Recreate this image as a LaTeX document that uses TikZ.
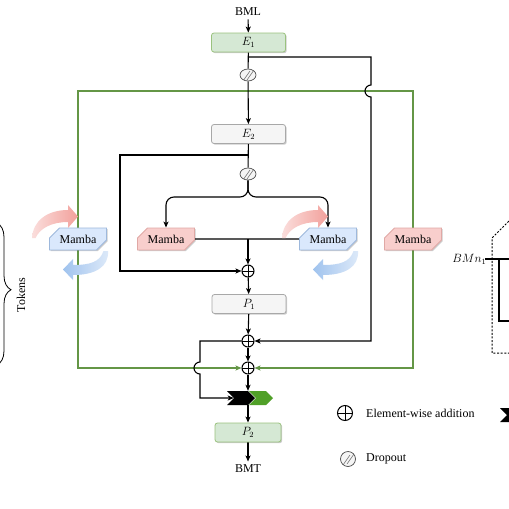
\documentclass[tikz,border=0pt]{standalone}
\usepackage{fontspec}
\setmainfont{Liberation Serif}
\usetikzlibrary{arrows.meta,shadows,calc,decorations.pathreplacing,shapes.misc,shapes.symbols,shapes.geometric,backgrounds}
\definecolor{gfill}{HTML}{D5E8D4}
\definecolor{gdraw}{HTML}{9AC27E}
\definecolor{grayfill}{HTML}{F5F5F5}
\definecolor{graydraw}{HTML}{A8A8A8}
\definecolor{rfill}{HTML}{F8CECC}
\definecolor{rdraw}{HTML}{E0A8A5}
\definecolor{bfill}{HTML}{DAE8FC}
\definecolor{bdraw}{HTML}{9DB8DC}
\definecolor{gline}{RGB}{100,150,70}
\definecolor{gchev}{RGB}{80,160,40}
\definecolor{parrow}{RGB}{242,160,155}
\definecolor{barrow}{RGB}{160,195,238}
\tikzset{
  base/.style={font=\fontsize{12}{14}\selectfont},
  shad/.style={drop shadow={shadow xshift=1.2pt,shadow yshift=-1.2pt,opacity=0.2,fill=black}},
  box/.style={base,rounded corners=2.5pt,minimum width=74pt,minimum height=19pt,inner sep=0pt,line width=0.8pt,shad},
  greenbox/.style={box,fill=gfill,draw=gdraw},
  graybox/.style={box,fill=grayfill,draw=graydraw},
  mamba/.style={base,chamfered rectangle,chamfered rectangle corners={north west,south east},chamfered rectangle xsep=5pt,chamfered rectangle ysep=5pt,minimum width=57pt,minimum height=22pt,inner sep=1pt,line width=0.8pt,shad},
  redm/.style={mamba,fill=rfill,draw=rdraw},
  bluem/.style={mamba,fill=bfill,draw=bdraw},
  dropout/.style={ellipse,draw=black!70,fill=black!4,line width=0.7pt,minimum width=16pt,minimum height=12pt,inner sep=0pt,
    path picture={\draw[black!55,line width=0.6pt]
      ($(path picture bounding box.center)+(-5pt,-6pt)$) -- ++(7pt,10pt)
      ($(path picture bounding box.center)+(-1pt,-5pt)$) -- ++(7pt,10pt);}},
  plus/.style={circle,draw,fill=white,line width=1pt,minimum size=12pt,inner sep=0pt,
    path picture={\draw[line width=1pt] (path picture bounding box.north) -- (path picture bounding box.south) (path picture bounding box.west) -- (path picture bounding box.east);}},
  conn/.style={line width=1.1pt,black},
  arr/.style={conn,-{Stealth[length=6pt,width=5pt,inset=1.5pt]}},
  gconn/.style={line width=1.1pt,gline},
  garr/.style={gconn,-{Stealth[length=6pt,width=5pt,inset=1.5pt]}},
  chev/.style={signal,signal to=east,signal from=west,minimum width=28pt,minimum height=14pt,inner sep=0pt,draw=none},
  pinkarr/.pic={\shade[left color=parrow!35!white,right color=parrow] (282,238) .. controls (283,221) and (297,210) .. (318,210) -- (318,205) -- (328,216.5) -- (318,228) -- (318,222) .. controls (302,222) and (290,228) .. (285.5,238) -- cycle;},
  bluearr/.pic={\shade[left color=barrow,right color=barrow!35!white] (353.5,251) -- (358,251) .. controls (359,267) and (345,275) .. (323,275) -- (323,280) -- (313,269.5) -- (323,259) -- (323,265) .. controls (340,265) and (350,262) .. (353.5,251) -- cycle;},
}
\begin{document}
\begin{tikzpicture}[x=1pt,y=-1pt,base]
\useasboundingbox (0,0) rectangle (509,509);
\clip (0,0) rectangle (509,509);
% main nodes
\node (bml) at (248,12) {BML};
\node[greenbox] (e1) at (248.5,42.5) {$E_1$};
\node[dropout] (d1) at (248,75) {};
\node[graybox] (e2) at (248.5,134) {$E_2$};
\node[dropout] (d2) at (248,174) {};
\node[redm] (m1) at (166,239) {Mamba};
\node[bluem] (m2) at (328,239) {Mamba};
\node[bluem] (m3) at (78,239) {Mamba};
\node[redm] (m4) at (413,239) {Mamba};
\node[plus] (a1) at (248,271) {};
\node[graybox] (p1) at (249,304) {$P_1$};
\node[plus] (a2) at (248,341) {};
\node[plus] (a3) at (248,368) {};
\node[chev,fill=gchev,minimum width=24pt] (cg) at (261,398) {};
\node[chev,fill=black] (cb) at (241,398) {};
\node[greenbox,minimum width=66pt] (p2) at (248,432.5) {$P_2$};
\node (bmt) at (248,469) {BMT};
% coordinates
\coordinate (j1) at (248,57);
\coordinate (r1) at (371,57);
\coordinate (r2) at (371,85);
\coordinate (r3) at (371,341);
\coordinate (gt) at (248,91);
\coordinate (gl1) at (78,91);
\coordinate (gl2) at (78,368);
\coordinate (gr1) at (413,91);
\coordinate (gr2) at (413,368);
\coordinate (j2) at (248,155);
\coordinate (l1) at (120,155);
\coordinate (l2) at (120,271);
\coordinate (s1) at (200,197);
\coordinate (s2) at (300,197);
\coordinate (j4) at (248,239);
\coordinate (k1) at (200,341);
\coordinate (k2) at (200,362);
\coordinate (k3) at (200,398);
\begin{scope}[on background layer]
\fill[white] (0,0) rectangle (509,509);
\draw[garr] (gt) -- (gl1) -- (gl2) -- (a3);
\draw[garr] (gt) -- (gr1) -- (gr2) -- (a3);
\draw[arr] (bml) -- (e1);
\draw[conn] (e1) -- (d1);
\draw[arr] (d1) -- (e2);
\draw[arr] (j1) -- (r1) -- (r2) arc[start angle=90,end angle=270,radius=6pt] -- (r3) -- (a2);
\draw[conn] (e2) -- (d2);
\draw[arr] (j2) -- (l1) -- (l2) -- (a1);
\draw[arr,rounded corners=8pt] (d2) |- (s1) -| (m1);
\draw[arr,rounded corners=8pt] (d2) |- (s2) -| (m2);
\draw[conn] (m1) -- (m2);
\draw[arr] (j4) -- (a1);
\draw[arr] (a1) -- (p1);
\draw[arr] (p1) -- (a2);
\draw[arr] (a2) -- (a3);
\draw[arr] (a2) -- (k1) -- (k2) arc[start angle=90,end angle=270,radius=6pt] -- (k3) -- (cb.west);
\draw[arr] (a3) -- (a3 |- cb.north);
\draw[arr] (a3 |- cb.south) -- (p2);
\draw[arr] (p2) -- (bmt);
\end{scope}
% curved block arrows
\pic at (0,0) {pinkarr};
\pic at (0,0) {bluearr};
\pic at (-250,0) {pinkarr};
\pic at (-250,0) {bluearr};
% brace and Tokens
\draw[line width=0.8pt,decorate,decoration={brace,amplitude=14pt,aspect=0.47}] (-3,223) -- (-3,365);
\node[rotate=90] (tok) at (21,295) {Tokens};
% legend
\node[plus,minimum size=15pt] (lp) at (345,413) {};
\node[anchor=west,inner sep=0pt] (lt1) at (366,413) {Element-wise addition};
\node[dropout,minimum width=15pt,minimum height=15pt] (ld) at (348,459) {};
\node[anchor=west,inner sep=0pt] (lt2) at (366,459) {Dropout};
\node[chev,fill=black] (lc) at (514,415) {};
% partial figure on the right
\draw[line width=1pt,dash pattern=on 2pt off 1.6pt] (514,216) -- (492,238) -- (492,353) -- (515,353);
\draw[line width=1.1pt] (485,259) -- (515,259);
\draw[line width=1.1pt] (499,259) -- (499,321) -- (515,321);
\node[anchor=east,inner sep=0.5pt] (bmn) at (487,259) {$BMn_1$};
\end{tikzpicture}
\end{document}
